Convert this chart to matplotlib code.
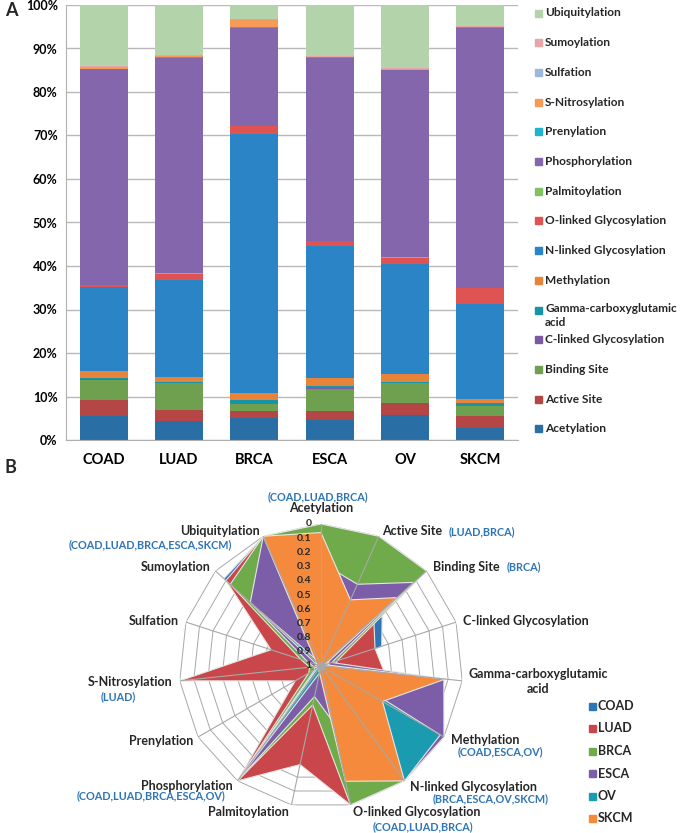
import numpy as np
import matplotlib.pyplot as plt
from matplotlib.patches import Rectangle

plt.rcParams['font.family'] = ['Lato', 'DejaVu Sans']
plt.rcParams['font.weight'] = 'bold'
plt.rcParams['text.color'] = '#262626'

cancers = ['COAD', 'LUAD', 'BRCA', 'ESCA', 'OV', 'SKCM']
ptm_types = ['Acetylation', 'Active Site', 'Binding Site', 'C-linked Glycosylation',
             'Gamma-carboxyglutamic acid', 'Methylation', 'N-linked Glycosylation',
             'O-linked Glycosylation', 'Palmitoylation', 'Phosphorylation', 'Prenylation',
             'S-Nitrosylation', 'Sulfation', 'Sumoylation', 'Ubiquitylation']

# panel A: share of sites per type, % (COAD, LUAD, BRCA, ESCA, OV, SKCM)
acetylation = [5.5, 4.3, 5.0, 4.7, 5.8, 2.8]
active_site = [3.6, 2.7, 1.7, 2.0, 2.6, 2.8]
binding_site = [4.8, 6.0, 1.6, 5.1, 4.6, 2.2]
c_linked = [0.05, 0.05, 0.05, 0.05, 0.05, 0.05]
gamma_carboxy = [0.2, 0.2, 0.8, 0.5, 0.2, 0.6]
methylation = [1.6, 1.3, 1.7, 1.9, 1.9, 0.9]
n_linked = [19.4, 22.2, 59.6, 30.3, 25.4, 21.9]
o_linked = [0.4, 1.5, 1.7, 1.2, 1.4, 3.6]
palmitoylation = [0.1, 0.1, 0.1, 0.1, 0.1, 0.1]
phosphorylation = [49.5, 49.6, 22.6, 42.1, 43.1, 59.9]
prenylation = [0.05, 0.05, 0.05, 0.05, 0.05, 0.05]
s_nitrosylation = [0.4, 0.3, 1.8, 0.1, 0.1, 0.1]
sulfation = [0.05, 0.05, 0.05, 0.05, 0.05, 0.05]
sumoylation = [0.2, 0.1, 0.1, 0.1, 0.1, 0.1]
ubiquitylation = [14.1, 11.6, 3.2, 11.8, 14.6, 4.9]

bar_colors = ['#2a6ea6', '#b44646', '#6ea050', '#7a5aa0', '#1795a8', '#e8833a', '#2b84c6',
              '#e05353', '#80c262', '#8466ac', '#1fb5d1', '#f59a58', '#9bb7da', '#e9a6a6',
              '#b3d3aa']

# panel B: values per type, axis runs 0 (outer) .. 1 (centre)
coad_r = [0, 0.4, 0.42, 0.55, 0.9, 0, 0.9, 0, 0.9, 0, 0.95, 0.9, 0.7, 0.08, 0]
luad_r = [0, 0, 0.5, 0.6, 0.55, 0.8, 0.8, 0, 0.29, 0, 0.79, 0, 0.63, 0.1, 0]
brca_r = [0, 0, 0, 0.88, 0.9, 0.9, 0, 0, 0.72, 0, 0.9, 0.92, 0.85, 0.14, 0]
esca_r = [0.27, 0.37, 0.12, 0.92, 0.13, 0, 0, 0.6, 0.78, 0, 0.95, 0.95, 0.9, 0.33, 0]
ov_r = [0.9, 0.9, 0.9, 0.95, 0.92, 0.03, 0, 0.9, 0.95, 0, 0.97, 0.95, 0.97, 0.43, 0.97]
skcm_r = [0.06, 0.49, 0.28, 0.97, 0.12, 0.5, 0, 0.17, 0.95, 0.97, 0.97, 0.97, 0.97, 0.95, 0]
radar_colors = ['#2e75b6', '#c9474a', '#6fab4a', '#7b5ea7', '#1b9bb0', '#f58a3c']

sig_notes = {'Acetylation': '(COAD,LUAD,BRCA)', 'Active Site': '(LUAD,BRCA)',
             'Binding Site': '(BRCA)', 'Methylation': '(COAD,ESCA,OV)',
             'N-linked Glycosylation': '(BRCA,ESCA,OV,SKCM)',
             'O-linked Glycosylation': '(COAD,LUAD,BRCA)',
             'Phosphorylation': '(COAD,LUAD,BRCA,ESCA,OV)', 'S-Nitrosylation': '(LUAD)',
             'Ubiquitylation': '(COAD,LUAD,BRCA,ESCA,SKCM)'}
note_color = '#2e75b6'

W, H = 682, 833
fig = plt.figure(figsize=(W / 100, H / 100), dpi=100)

# ---------- panel A ----------
ax = fig.add_axes([66 / W, 1 - 440 / H, 452 / W, 435 / H])
pct = np.array([acetylation, active_site, binding_site, c_linked, gamma_carboxy, methylation,
                n_linked, o_linked, palmitoylation, phosphorylation, prenylation,
                s_nitrosylation, sulfation, sumoylation, ubiquitylation])
pct = pct / pct.sum(axis=0) * 100
x = np.arange(len(cancers))
bottom = np.zeros(len(cancers))
for vals, col in zip(pct, bar_colors):
    ax.bar(x, vals, bottom=bottom, width=0.64, color=col, edgecolor='none', zorder=2)
    bottom += vals

ax.set_xlim(-0.5, 5.5)
ax.set_ylim(0, 100)
ax.set_yticks(np.arange(0, 101, 10))
ax.set_yticklabels([f'{v}%' for v in range(0, 101, 10)], fontsize=9)
ax.set_xticks(x)
ax.set_xticklabels(cancers, fontsize=10.5)
ax.tick_params(length=0, pad=6)
ax.tick_params(axis='x', pad=9)
ax.yaxis.grid(True, color='#b8b8b8', lw=1, zorder=0)
for s in ['top', 'right']:
    ax.spines[s].set_visible(False)
for s in ['left', 'bottom']:
    ax.spines[s].set_color('#b0b0b0')

# legend A (drawn top to bottom in reverse order)
for i, (name, col) in enumerate(zip(ptm_types[::-1], bar_colors[::-1])):
    yc = 1 - (13 + 29.7 * i) / H
    fig.add_artist(Rectangle((535 / W, yc - 3.5 / H), 7 / W, 7 / H, color=col,
                             transform=fig.transFigure))
    if name.startswith('Gamma'):
        fig.text(545 / W, yc + 7 / H, 'Gamma-carboxyglutamic\nacid', fontsize=8.6,
                 ha='left', va='top', linespacing=1.3)
    else:
        fig.text(545 / W, yc, name, fontsize=8.6, ha='left', va='center')

fig.text(5 / W, 1 - 11 / H, 'A', fontsize=13, ha='left', va='center')
fig.text(5 / W, 1 - 467 / H, 'B', fontsize=13, ha='left', va='center')

# ---------- panel B ----------
R = 142
ax2 = fig.add_axes([(321 - R) / W, 1 - (666 + R) / H, 2 * R / W, 2 * R / H], projection='polar')
ax2.set_theta_zero_location('N')
ax2.set_theta_direction(-1)
ax2.set_ylim(1, 0)
ax2.grid(False)
ax2.set_xticks([])
ax2.set_yticks([])
ax2.spines['polar'].set_visible(False)
ax2.patch.set_visible(False)

theta = np.arange(len(ptm_types)) * 2 * np.pi / len(ptm_types)
theta_c = np.append(theta, theta[0])

for lvl in np.arange(0, 1.0, 0.1):
    ax2.plot(theta_c, [lvl] * len(theta_c), color='#a8a8a8', lw=0.7, zorder=0.5)

for vals, col in zip([coad_r, luad_r, brca_r, esca_r, ov_r, skcm_r], radar_colors):
    v = np.append(vals, vals[0])
    ax2.fill(theta_c, v, color=col, ec='#e6e6e6', lw=0.8, zorder=2)

for t in theta:
    ax2.plot([t, t], [0, 1], color='#a8a8a8', lw=0.8, zorder=5)
ax2.plot([0], [1], 'o', color='#a8a8a8', ms=5, zorder=6)

for lvl in np.arange(0, 1.01, 0.1):
    lab = '0' if lvl < 0.05 else ('1' if lvl > 0.95 else f'{lvl:.1f}')
    ax2.annotate(lab, xy=(0, lvl), xytext=(-7, 0), textcoords='offset points',
                 ha='right', va='center', fontsize=7.5, zorder=7, annotation_clip=False)

# label placement relative to each outer vertex: (ha, dx px, dy px)
label_pos = {
    'Acetylation': ('center', 0, -16), 'Active Site': ('left', 3, -5),
    'Binding Site': ('left', 6.5, -4), 'C-linked Glycosylation': ('left', 7, -1),
    'Gamma-carboxyglutamic acid': ('center', 76, 1), 'Methylation': ('left', 7, 3),
    'N-linked Glycosylation': ('left', 5.5, 6), 'O-linked Glycosylation': ('left', 2.5, 7),
    'Palmitoylation': ('right', -2.5, 7), 'Phosphorylation': ('right', -4.5, 5),
    'Prenylation': ('right', -5, 4), 'S-Nitrosylation': ('right', -7, 1),
    'Sulfation': ('right', -7, -1), 'Sumoylation': ('right', -4.5, -4),
    'Ubiquitylation': ('right', -3, -5)}
# notes below/above sit relative to the vertex, notes 'after' follow the label text
note_pos = {
    'Acetylation': ('center', -3, -27), 'Active Site': 'after', 'Binding Site': 'after',
    'Methylation': ('left', 14, 15), 'N-linked Glycosylation': ('left', 28.5, 18),
    'O-linked Glycosylation': ('left', 22.5, 22), 'Phosphorylation': ('right', -12.5, 15),
    'S-Nitrosylation': ('right', -44, 16), 'Ubiquitylation': ('right', -31, 8)}

pt = 0.72
for t, name in zip(theta, ptm_types):
    ha, dx, dy = label_pos[name]
    txt = 'Gamma-carboxyglutamic\nacid' if name.startswith('Gamma') else name
    lab = ax2.annotate(txt, xy=(t, 0), xytext=(dx * pt, -dy * pt), textcoords='offset points',
                       ha=ha, va='center', fontsize=9, linespacing=1.3, annotation_clip=False)
    if name not in note_pos:
        continue
    if note_pos[name] == 'after':
        ax2.annotate(sig_notes[name], xy=(1, 0.5), xycoords=lab, xytext=(5, 0),
                     textcoords='offset points', ha='left', va='center', fontsize=7.8,
                     color=note_color, annotation_clip=False)
    else:
        ha, dx, dy = note_pos[name]
        ax2.annotate(sig_notes[name], xy=(t, 0), xytext=(dx * pt, -dy * pt),
                     textcoords='offset points', ha=ha, va='center', fontsize=7.8,
                     color=note_color, annotation_clip=False)

# legend B
for i, (name, col) in enumerate(zip(cancers, radar_colors)):
    yc = 1 - (706 + 22.5 * i) / H
    fig.add_artist(Rectangle((589 / W, yc - 3.5 / H), 7 / W, 7 / H, color=col,
                             transform=fig.transFigure))
    fig.text(598 / W, yc, name, fontsize=9, ha='left', va='center')

fig.savefig('out.png', dpi=100)
